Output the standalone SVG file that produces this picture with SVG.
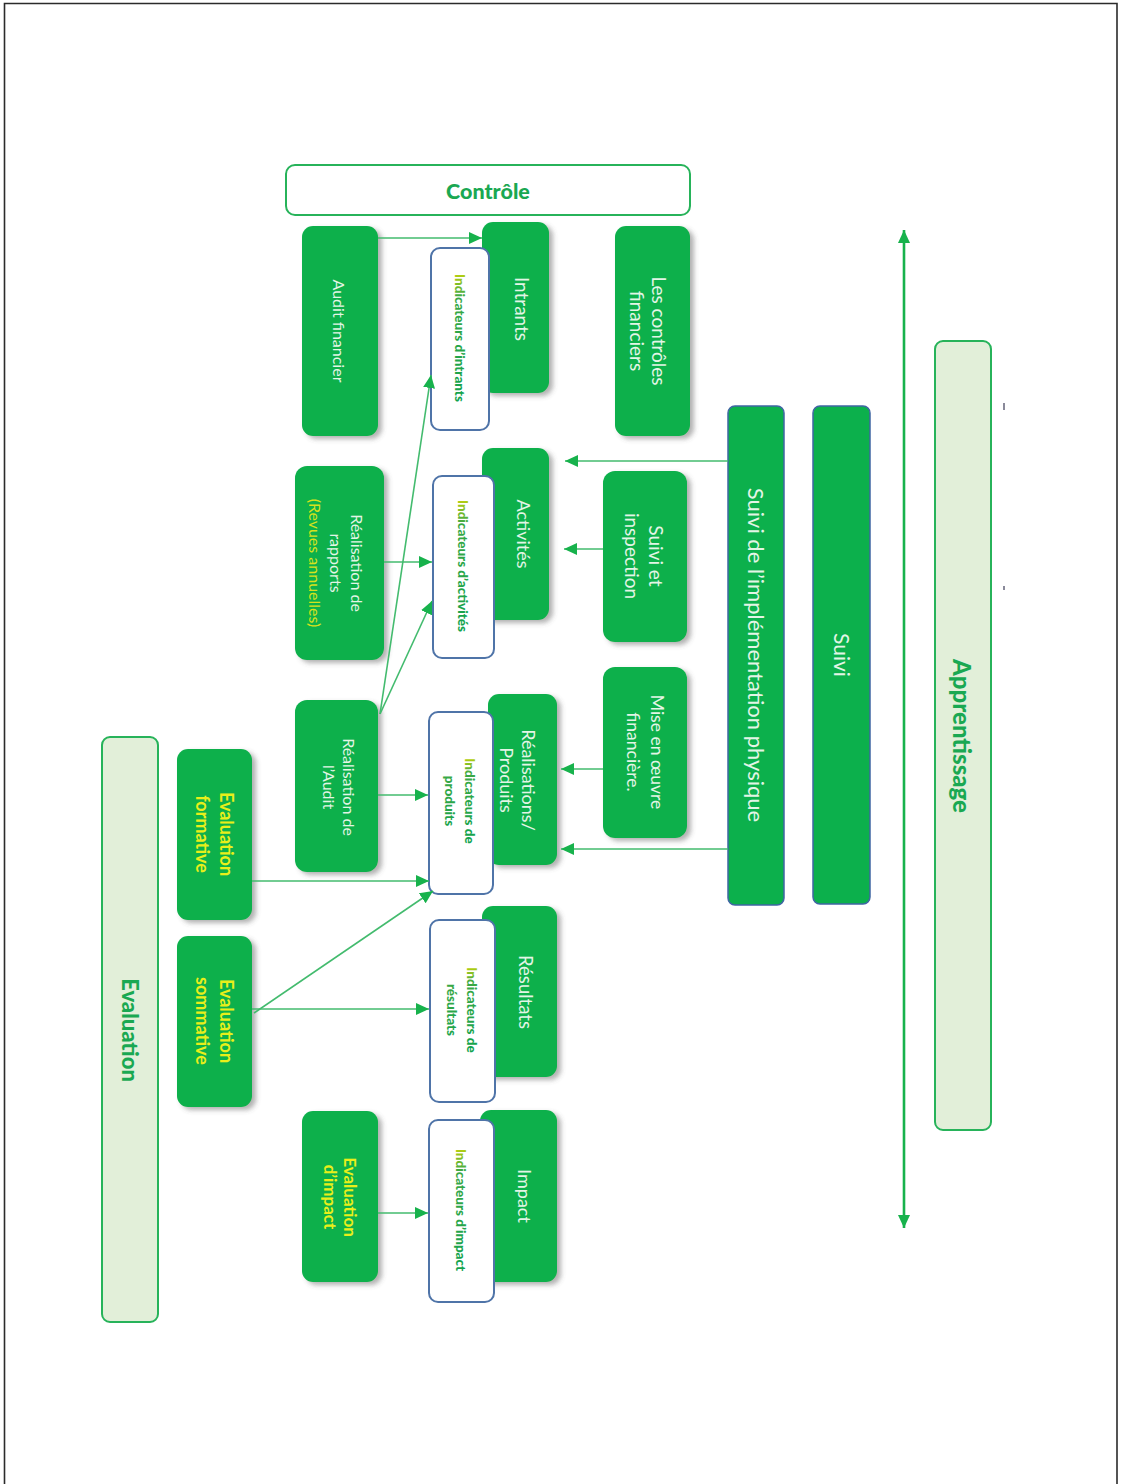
<svg xmlns="http://www.w3.org/2000/svg" width="1121" height="1484" viewBox="0 0 1121 1484">
<defs>
<style>
.g{fill:#0cb04c;}
.ind{fill:#ffffff;stroke:#4f74a8;stroke-width:2;}
.bar{fill:#0cb04c;stroke:#3f66a3;stroke-width:1.5;}
.pale{fill:#e2efd9;stroke:#27b35a;stroke-width:2;}
.t{font-family:Lato,"Open Sans","Liberation Sans",sans-serif;fill:#e3f5e6;text-anchor:middle;dominant-baseline:central;}
.y{font-family:Lato,"Open Sans","Liberation Sans",sans-serif;fill:#e8ef1a;font-weight:bold;text-anchor:middle;dominant-baseline:central;}
.it{font-family:Lato,"Open Sans","Liberation Sans",sans-serif;fill:url(#ig);font-weight:900;font-size:13.5px;text-anchor:middle;dominant-baseline:central;}
.h{font-family:Lato,"Open Sans","Liberation Sans",sans-serif;fill:#1aa852;font-weight:900;text-anchor:middle;dominant-baseline:central;}
.c{stroke:#43bb6e;stroke-width:1.6;fill:none;marker-end:url(#ah);}
</style>
<linearGradient id="ig" x1="0" y1="0" x2="1" y2="0">
<stop offset="0" stop-color="#b8cf10"/>
<stop offset="0.18" stop-color="#3aa844"/>
<stop offset="1" stop-color="#14a24c"/>
</linearGradient>
<filter id="sh" x="-20%" y="-10%" width="150%" height="130%">
<feDropShadow dx="4" dy="3" stdDeviation="2.5" flood-color="#555" flood-opacity="0.45"/>
</filter>
<marker id="ah" markerUnits="userSpaceOnUse" markerWidth="14" markerHeight="12" refX="13" refY="6" orient="auto">
<path d="M0,0 L13,6 L0,12 z" fill="#17b24c"/>
</marker>
<marker id="bh" markerUnits="userSpaceOnUse" markerWidth="14" markerHeight="12" refX="13" refY="6" orient="auto-start-reverse">
<path d="M0,0 L13,6 L0,12 z" fill="#17b24c"/>
</marker>
</defs>
<rect width="1121" height="1484" fill="#ffffff"/>
<path d="M4.5,1484 V3.5 H1117 V1484" fill="none" stroke="#2b2b2b" stroke-width="1.6"/>

<g id="controle">
<rect x="286" y="165" width="404" height="50" rx="9" fill="#fff" stroke="#27b35a" stroke-width="2"/>
<text class="h" x="488" y="191" font-size="21.5">Contrôle</text>
</g>

<g id="apprentissage">
<rect class="pale" x="935" y="341" width="56" height="789" rx="8"/>
<text class="h" transform="translate(962 736) rotate(90)" font-size="24">Apprentissage</text>
</g>

<g id="evaluation">
<rect class="pale" x="102" y="737" width="56" height="585" rx="8"/>
<text class="h" transform="translate(130 1030) rotate(90)" font-size="22">Evaluation</text>
</g>

<g id="suivi-impl">
<rect class="bar" x="728" y="406" width="56" height="499" rx="7"/>
<text class="t" transform="translate(756 655) rotate(90)" font-size="22">Suivi de l’implémentation physique</text>
</g>

<g id="suivi">
<rect class="bar" x="813" y="406" width="57" height="498" rx="7"/>
<text class="t" transform="translate(842 655) rotate(90)" font-size="21">Suivi</text>
</g>

<g id="audit-financier">
<rect class="g" filter="url(#sh)" x="302" y="226" width="76" height="210" rx="11"/>
<text class="t" transform="translate(339 331) rotate(90)" font-size="16">Audit financier</text>
</g>

<g id="intrants">
<rect class="g" filter="url(#sh)" x="482" y="222" width="67" height="171" rx="11"/>
<text class="t" transform="translate(522 309) rotate(90)" font-size="19">Intrants</text>
</g>

<g id="ind-intrants">
<rect class="ind" x="431" y="248" width="58" height="182" rx="9"/>
<text class="it" transform="translate(460 338) rotate(90)">Indicateurs d’intrants</text>
</g>

<g id="controles-financiers">
<rect class="g" filter="url(#sh)" x="615" y="226" width="75" height="210" rx="11"/>
<text class="t" transform="translate(649 331) rotate(90)" font-size="19"><tspan x="0" y="-11">Les contrôles</tspan><tspan x="0" y="11">financiers</tspan></text>
</g>

<g id="realisation-rapports">
<rect class="g" filter="url(#sh)" x="295" y="466" width="89" height="194" rx="12"/>
<text class="t" transform="translate(337 563) rotate(90)" font-size="16"><tspan x="0" y="-21">Réalisation de</tspan><tspan x="0" y="0">rapports</tspan><tspan x="0" y="21" fill="#d6e21c">(Revues annuelles)</tspan></text>
</g>

<g id="activites">
<rect class="g" filter="url(#sh)" x="482" y="448" width="67" height="172" rx="11"/>
<text class="t" transform="translate(524 534) rotate(90)" font-size="18">Activités</text>
</g>

<g id="ind-activites">
<rect class="ind" x="433" y="476" width="61" height="182" rx="9"/>
<text class="it" transform="translate(463 566) rotate(90)">Indicateurs d’activités</text>
</g>

<g id="suivi-inspection">
<rect class="g" filter="url(#sh)" x="603" y="471" width="84" height="171" rx="12"/>
<text class="t" transform="translate(645 556) rotate(90)" font-size="19"><tspan x="0" y="-12">Suivi et</tspan><tspan x="0" y="12">inspection</tspan></text>
</g>

<g id="realisation-audit">
<rect class="g" filter="url(#sh)" x="295" y="700" width="83" height="172" rx="12"/>
<text class="t" transform="translate(340 787) rotate(90)" font-size="16"><tspan x="0" y="-10">Réalisation de</tspan><tspan x="0" y="10">l’Audit</tspan></text>
</g>

<g id="realisations-produits">
<rect class="g" filter="url(#sh)" x="488" y="694" width="69" height="171" rx="11"/>
<text class="t" transform="translate(518 780) rotate(90)" font-size="18"><tspan x="0" y="-11">Réalisations/</tspan><tspan x="0" y="11">Produits</tspan></text>
</g>

<g id="ind-produits">
<rect class="ind" x="429" y="712" width="64" height="182" rx="9"/>
<text class="it" transform="translate(460 801) rotate(90)" font-size="14"><tspan x="0" y="-10">Indicateurs de</tspan><tspan x="0" y="10">produits</tspan></text>
</g>

<g id="mise-en-oeuvre">
<rect class="g" filter="url(#sh)" x="603" y="667" width="84" height="171" rx="12"/>
<text class="t" transform="translate(646 752) rotate(90)" font-size="17.5"><tspan x="0" y="-12">Mise en œuvre</tspan><tspan x="0" y="12">financière.</tspan></text>
</g>

<g id="eval-formative">
<rect class="g" filter="url(#sh)" x="177" y="749" width="75" height="171" rx="11"/>
<text class="y" transform="translate(215 834) rotate(90)" font-size="18"><tspan x="0" y="-12">Evaluation</tspan><tspan x="0" y="12">formative</tspan></text>
</g>

<g id="eval-sommative">
<rect class="g" filter="url(#sh)" x="177" y="936" width="75" height="171" rx="11"/>
<text class="y" transform="translate(215 1021) rotate(90)" font-size="18"><tspan x="0" y="-12">Evaluation</tspan><tspan x="0" y="12">sommative</tspan></text>
</g>

<g id="resultats">
<rect class="g" filter="url(#sh)" x="482" y="906" width="75" height="171" rx="11"/>
<text class="t" transform="translate(526 992) rotate(90)" font-size="18.5">Résultats</text>
</g>

<g id="ind-resultats">
<rect class="ind" x="430" y="920" width="65" height="182" rx="9"/>
<text class="it" transform="translate(462 1010) rotate(90)" font-size="14"><tspan x="0" y="-10">Indicateurs de</tspan><tspan x="0" y="10">résultats</tspan></text>
</g>

<g id="eval-impact">
<rect class="g" filter="url(#sh)" x="302" y="1111" width="76" height="171" rx="11"/>
<text class="y" transform="translate(341 1197) rotate(90)" font-size="17"><tspan x="0" y="-10">Evaluation</tspan><tspan x="0" y="10">d’impact</tspan></text>
</g>

<g id="impact">
<rect class="g" filter="url(#sh)" x="480" y="1110" width="77" height="172" rx="11"/>
<text class="t" transform="translate(525 1196) rotate(90)" font-size="18">Impact</text>
</g>

<g id="ind-impact">
<rect class="ind" x="429" y="1120" width="65" height="182" rx="9"/>
<text class="it" transform="translate(461 1210) rotate(90)">Indicateurs d’impact</text>
</g>

<g id="marks">
<rect x="1003" y="403" width="2" height="7" fill="#8a8a9a"/>
<rect x="1003" y="586" width="2" height="4" fill="#8a8a9a"/>
</g>

<g id="connectors">
<line class="c" x1="378" y1="238" x2="482" y2="238"/>
<line class="c" x1="384" y1="562" x2="432" y2="562"/>
<line class="c" x1="380" y1="714" x2="431" y2="375"/>
<line class="c" x1="380" y1="714" x2="432" y2="601"/>
<line class="c" x1="378" y1="795" x2="428" y2="795"/>
<line class="c" x1="252" y1="881" x2="429" y2="881"/>
<line class="c" x1="254" y1="1013" x2="433" y2="891"/>
<line class="c" x1="252" y1="1009" x2="429" y2="1009"/>
<line class="c" x1="378" y1="1213" x2="428" y2="1213"/>
<line class="c" x1="728" y1="461" x2="565" y2="461"/>
<line class="c" x1="603" y1="549" x2="564" y2="549"/>
<line class="c" x1="603" y1="769" x2="561" y2="769"/>
<line class="c" x1="728" y1="849" x2="561" y2="849"/>
<line x1="904" y1="230" x2="904" y2="1228" stroke="#17b24c" stroke-width="2.6" marker-start="url(#bh)" marker-end="url(#bh)"/>
</g>
</svg>
